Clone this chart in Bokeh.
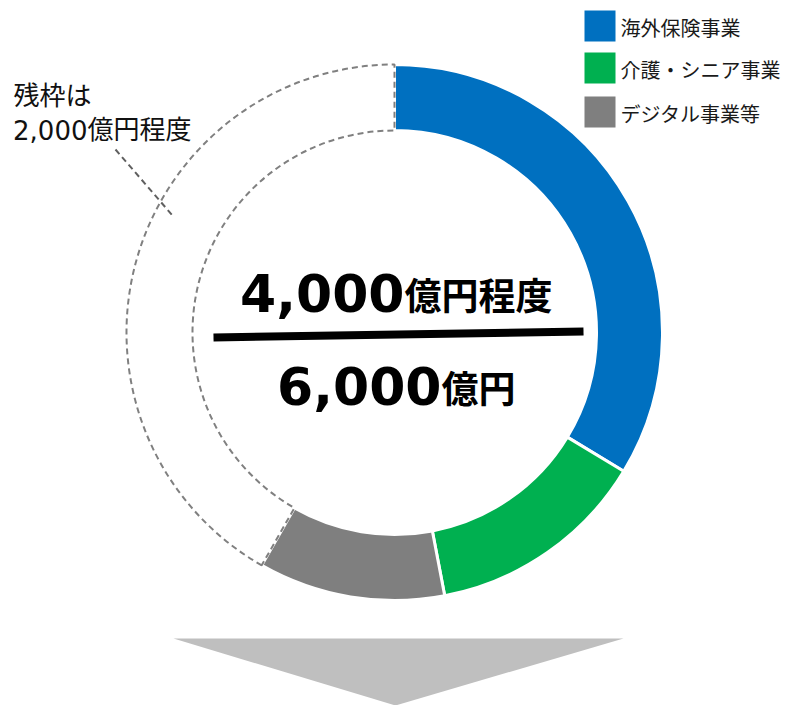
import math
from bokeh.plotting import figure
from bokeh.models import Range1d, ColumnDataSource
from bokeh.core.properties import value
from bokeh.embed import file_html
from bokeh.resources import INLINE

# ---- data (億円) ----
segments = ["海外保険事業", "介護・シニア事業", "デジタル事業等"]
seg_values = [2020, 800, 675]          # read from arc lengths
seg_colors = ["#0070c0", "#00b050", "#7f7f7f"]
total_frame = 6000                      # 6,000億円
target_label = "4,000"
total_label = "6,000"
remain_head = "残枠は"
remain_num = "2,000"
remain_unit = "億円程度"

# ---- canvas: data units == screen pixels (y flipped) ----
W, H = 787, 705
def Y(sy):
    return H - sy

p = figure(width=W, height=H, x_range=Range1d(0, W), y_range=Range1d(0, H),
           output_backend="svg", toolbar_location=None, min_border=0)
p.axis.visible = False
p.grid.visible = False
p.outline_line_color = None
p.background_fill_color = "white"
p.border_fill_color = "white"

cx, cy = 394, Y(332)
r_in, r_out = 202, 268

# cumulative clockwise angles from 12 o'clock
cum = [0]
for v in seg_values:
    cum.append(cum[-1] + v / total_frame * 360.0)
starts = [math.radians(90 - a) for a in cum[:-1]]
ends = [math.radians(90 - a) for a in cum[1:]]

src = ColumnDataSource(dict(start=starts, end=ends, color=seg_colors, name=segments))
p.annular_wedge(x=cx, y=cy, inner_radius=r_in, outer_radius=r_out,
                start_angle="start", end_angle="end", direction="clock",
                fill_color="color", line_color="white", line_width=3, source=src)

# remaining frame (dashed outline)
p.annular_wedge(x=cx, y=cy, inner_radius=r_in, outer_radius=r_out,
                start_angle=math.radians(90 - cum[-1]), end_angle=math.radians(90 - 360),
                direction="clock", fill_color=None, line_color="#808080",
                line_width=2, line_dash="6 4")

# leader line for remaining label
p.line(x=[115, 172], y=[Y(149), Y(215)], line_color="#606060", line_width=2, line_dash="6 4")

# remaining label
p.text(x=[13], y=[Y(93)], text=[remain_head],
       text_font=value("Noto Sans CJK JP"), text_font_size="26px",
       text_align="left", text_baseline="alphabetic", text_color="#111111")
p.text(x=[87], y=[Y(129)], text=[remain_num],
       text_font=value("DejaVu Sans"), text_font_size="26px",
       text_align="right", text_baseline="alphabetic", text_color="#111111")
p.text(x=[87], y=[Y(127)], text=[remain_unit],
       text_font=value("Noto Sans CJK JP"), text_font_size="26px",
       text_align="left", text_baseline="alphabetic", text_color="#111111")

# centre texts
p.text(x=[404], y=[Y(292)], text=[target_label], text_font=value("DejaVu Sans"),
       text_font_style="bold", text_font_size="52px", text_align="right",
       text_baseline="alphabetic", text_color="black")
p.text(x=[404], y=[Y(293)], text=["億円程度"], text_font=value("Noto Sans CJK JP"),
       text_font_style="bold", text_font_size="37px", text_align="left",
       text_baseline="alphabetic", text_color="black")
p.line(x=[213, 583], y=[Y(337), Y(331)], line_color="black", line_width=8, line_cap="butt")
p.text(x=[441], y=[Y(385)], text=[total_label], text_font=value("DejaVu Sans"),
       text_font_style="bold", text_font_size="52px", text_align="right",
       text_baseline="alphabetic", text_color="black")
p.text(x=[441], y=[Y(386)], text=["億円"], text_font=value("Noto Sans CJK JP"),
       text_font_style="bold", text_font_size="37px", text_align="left",
       text_baseline="alphabetic", text_color="black")

# legend
leg_y = [25.5, 67.5, 111.5]
p.rect(x=[599.5] * 3, y=[Y(v) for v in leg_y], width=31, height=31,
       fill_color=seg_colors, line_color=None)
p.text(x=[620] * 3, y=[Y(v + 1.5) for v in leg_y], text=segments,
       text_font=value("Noto Sans CJK JP"), text_font_size="20px",
       text_align="left", text_baseline="middle", text_color="#1a1a1a")

# down arrow
p.patch(x=[173, 623, 395], y=[Y(638), Y(638), Y(705)], fill_color="#bfbfbf", line_color=None)

open("out.html", "w").write(file_html(p, INLINE))
